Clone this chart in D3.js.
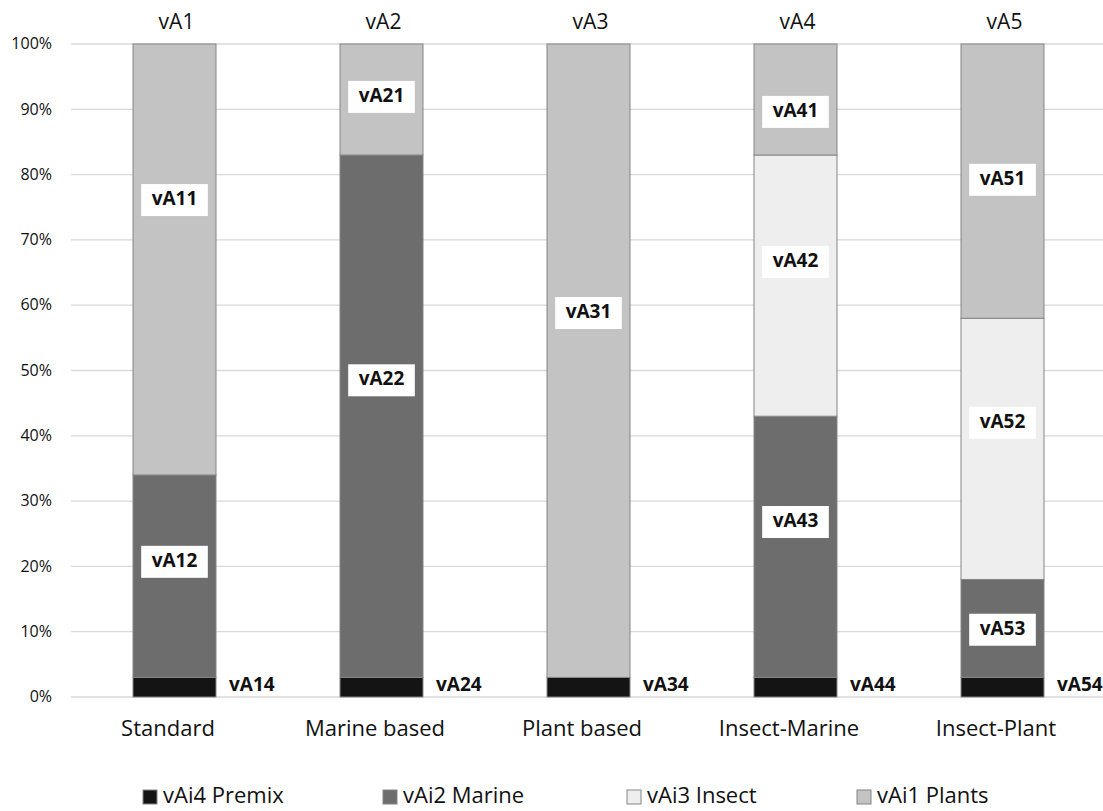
<!DOCTYPE html>
<html>
<head>
<meta charset="utf-8">
<script src="https://cdn.jsdelivr.net/npm/d3@7/dist/d3.min.js"></script>
<style>
  html, body { margin: 0; padding: 0; background: #fff; }
  svg { display: block; font-family: "Open Sans", "Noto Sans", sans-serif; }
</style>
</head>
<body>
<svg id="chart" width="1103" height="811"></svg>
<script>
// ---- data ----
const categories = ["Standard", "Marine based", "Plant based", "Insect-Marine", "Insect-Plant"];
const topLabels = ["vA1", "vA2", "vA3", "vA4", "vA5"];
const seriesNames = ["vAi4 Premix", "vAi2 Marine", "vAi3 Insect", "vAi1 Plants"];
const premix = [3, 3, 3, 3, 3];
const marine = [31, 80, 0, 40, 15];
const insect = [0, 0, 0, 40, 40];
const plants = [66, 17, 97, 17, 42];
const premixLabels = ["vA14", "vA24", "vA34", "vA44", "vA54"];
const marineLabels = ["vA12", "vA22", null, "vA43", "vA53"];
const insectLabels = [null, null, null, "vA42", "vA52"];
const plantsLabels = ["vA11", "vA21", "vA31", "vA41", "vA51"];
// label anchor values (in % units on the value axis)
const premixLabelAt = [1.7, 1.7, 1.7, 1.7, 1.7];
const marineLabelAt = [20.7, 48.5, null, 26.8, 10.3];
const insectLabelAt = [null, null, null, 66.6, 42.0];
const plantsLabelAt = [76.1, 91.9, 58.8, 89.6, 79.2];
const yTicks = [0, 10, 20, 30, 40, 50, 60, 70, 80, 90, 100];

// ---- setup ----
const colors = ["#141414", "#6d6d6d", "#eeeeee", "#c3c3c3"];
const seriesVals = [premix, marine, insect, plants];
const seriesLabels = [premixLabels, marineLabels, insectLabels, plantsLabels];
const seriesLabelAt = [premixLabelAt, marineLabelAt, insectLabelAt, plantsLabelAt];

const svg = d3.select("#chart");
const x = d3.scaleBand().domain(categories).range([64.5, 1099.5]).paddingInner(0).paddingOuter(0);
const y = d3.scaleLinear().domain([0, 100]).range([697, 44]);
const barW = 83, barShift = 6.5;
const barCenter = c => x(c) + x.bandwidth() / 2 + barShift;

// gridlines
svg.append("g").selectAll("line").data(yTicks).join("line")
  .attr("x1", 71).attr("x2", 1103)
  .attr("y1", d => y(d)).attr("y2", d => y(d))
  .attr("stroke", "#d9d9d9").attr("stroke-width", 1.3);

// y tick labels
svg.append("g").selectAll("text").data(yTicks).join("text")
  .attr("x", 52).attr("y", d => y(d) + 1)
  .attr("text-anchor", "end").attr("dominant-baseline", "middle")
  .attr("font-size", 16).attr("fill", "#111")
  .text(d => d + "%");

// stacked segments
const stack = [];
categories.forEach((c, i) => {
  let base = 0;
  seriesVals.forEach((vals, s) => {
    const v = vals[i];
    stack.push({ c, i, s, y0: base, y1: base + v, label: seriesLabels[s][i], at: seriesLabelAt[s][i] });
    base += v;
  });
});

svg.append("g").selectAll("rect").data(stack.filter(d => d.y1 > d.y0)).join("rect")
  .attr("x", d => barCenter(d.c) - barW / 2)
  .attr("width", barW)
  .attr("y", d => y(d.y1))
  .attr("height", d => y(d.y0) - y(d.y1))
  .attr("fill", d => colors[d.s])
  .attr("stroke", "#858585").attr("stroke-width", 1);

// data labels
const lg = svg.append("g");
stack.filter(d => d.label).forEach(d => {
  if (d.s === 0) {
    lg.append("text")
      .attr("x", barCenter(d.c) + barW / 2 + 13)
      .attr("y", y(d.at))
      .attr("dominant-baseline", "middle")
      .attr("font-size", 19).attr("font-weight", "bold").attr("fill", "#111")
      .text(d.label);
  } else {
    const g = lg.append("g");
    const t = g.append("text")
      .attr("x", barCenter(d.c))
      .attr("y", y(d.at))
      .attr("text-anchor", "middle").attr("dominant-baseline", "middle")
      .attr("font-size", 19).attr("font-weight", "bold").attr("fill", "#111")
      .text(d.label);
    const w = t.node().getComputedTextLength() + 21;
    g.insert("rect", "text")
      .attr("x", barCenter(d.c) - w / 2).attr("y", y(d.at) - 16)
      .attr("width", w).attr("height", 32)
      .attr("fill", "#fff");
  }
});

// top labels
svg.append("g").selectAll("text").data(categories).join("text")
  .attr("x", d => barCenter(d) + 2)
  .attr("y", 29)
  .attr("text-anchor", "middle")
  .attr("font-size", 21).attr("fill", "#111")
  .text((d, i) => topLabels[i]);

// category axis labels
svg.append("g").selectAll("text").data(categories).join("text")
  .attr("x", d => x(d) + x.bandwidth() / 2)
  .attr("y", 736)
  .attr("text-anchor", "middle")
  .attr("font-size", 22).attr("fill", "#111")
  .text(d => d);

// legend
const legendX = [143, 383, 627, 857];
const leg = svg.append("g");
seriesNames.forEach((n, i) => {
  leg.append("rect")
    .attr("x", legendX[i]).attr("y", 790)
    .attr("width", 14).attr("height", 14)
    .attr("fill", colors[i]).attr("stroke", "#858585").attr("stroke-width", 1);
  leg.append("text")
    .attr("x", legendX[i] + 20).attr("y", 803)
    .attr("font-size", 22).attr("fill", "#111")
    .text(n);
});
</script>
</body>
</html>
